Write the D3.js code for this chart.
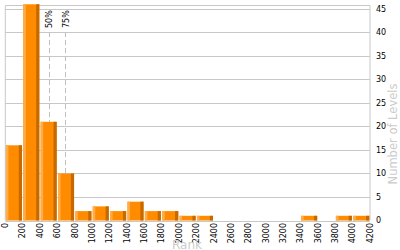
<!DOCTYPE html>
<html>
<head>
<meta charset="utf-8">
<script src="https://cdn.jsdelivr.net/npm/d3@7"></script>
<style>
  body { margin: 0; background: #fff; }
  svg text { font-family: "DejaVu Sans", sans-serif; }
</style>
</head>
<body>
<script>
const WIDTH = 400;
const HEIGHT = 250;

// histogram bins (rank, lower edge of each 200 wide bin) and level counts
const binStarts = [0, 200, 400, 600, 800, 1000, 1200, 1400, 1600, 1800, 2000,
                   2200, 2400, 2600, 2800, 3000, 3200, 3400, 3600, 3800, 4000];
const counts = [16, 46, 21, 10, 2, 3, 2, 4, 2, 2, 1,
                1, 0, 0, 0, 0, 0, 1, 0, 1, 1];
const binWidth = 200;

const xTicks = [0, 200, 400, 600, 800, 1000, 1200, 1400, 1600, 1800, 2000,
                2200, 2400, 2600, 2800, 3000, 3200, 3400, 3600, 3800, 4000, 4200];
const yTicks = [0, 5, 10, 15, 20, 25, 30, 35, 40, 45];

const markerLabels = ["50%", "75%"];
const markerRanks = [500, 690];

const margin = {top: 5, right: 30, bottom: 29.5, left: 5.3};

let svg = d3.select("body")
            .append("svg")
            .attr("width", WIDTH)
            .attr("height", HEIGHT);

let x = d3.scaleLinear()
          .domain([0, 4200])
          .range([margin.left, WIDTH - margin.right]);

let y = d3.scaleLinear()
          .domain([0, 45.85])
          .range([HEIGHT - margin.bottom, margin.top]);

// grid
svg.append("g")
   .selectAll("line")
   .data(yTicks)
   .enter().append("line")
   .attr("x1", x(0))
   .attr("x2", x(4200))
   .attr("y1", d => Math.round(y(d)) + 0.5)
   .attr("y2", d => Math.round(y(d)) + 0.5)
   .attr("stroke", "#c8c8c8");

// frame: top, left, right
svg.append("path")
   .attr("d", `M${x(0)},${y(0)}V${margin.top + 0.5}H${x(4200)}V${y(0)}`)
   .attr("fill", "none")
   .attr("stroke", "#c8c8c8");

// percentile markers
let markers = svg.append("g")
                 .selectAll("g")
                 .data(markerRanks)
                 .enter().append("g");

markers.append("line")
       .attr("x1", d => Math.round(x(d)) + 0.5)
       .attr("x2", d => Math.round(x(d)) + 0.5)
       .attr("y1", 32)
       .attr("y2", y(0))
       .attr("stroke", "#c0c0c0")
       .attr("stroke-dasharray", "5,3");

markers.append("text")
       .attr("transform", d => `translate(${x(d) + 0.5},28) rotate(-90)`)
       .attr("dy", "0.35em")
       .attr("font-size", "8px")
       .attr("fill", "#000")
       .text((d, i) => markerLabels[i]);

// bars
let bars = svg.append("g")
              .selectAll("g")
              .data(binStarts.map((b, i) => ({start: b, count: counts[i]})).filter(d => d.count > 0))
              .enter().append("g");

const barX = d => x(d.start) + 0.6;
const barW = d => x(d.start + binWidth) - x(d.start) - 1.3;

bars.append("rect")
    .attr("x", barX)
    .attr("y", d => y(d.count))
    .attr("width", barW)
    .attr("height", d => y(0) - y(d.count))
    .attr("fill", "#ff8c00");

bars.append("rect")
    .attr("x", barX)
    .attr("y", d => y(d.count))
    .attr("width", 2.5)
    .attr("height", d => y(0) - y(d.count))
    .attr("fill", "#ffad4a");

bars.append("rect")
    .attr("x", d => barX(d) + barW(d) - 3.2)
    .attr("y", d => y(d.count))
    .attr("width", 3.2)
    .attr("height", d => y(0) - y(d.count))
    .attr("fill", "#c66a00");

// x axis labels
svg.append("g")
   .selectAll("text")
   .data(xTicks)
   .enter().append("text")
   .attr("transform", d => `translate(${x(d)},${y(0) + 2.5}) rotate(-90)`)
   .attr("text-anchor", "end")
   .attr("dy", "0.35em")
   .attr("font-size", "8px")
   .attr("fill", "#000")
   .text(d => d);

// y axis labels (right side)
svg.append("g")
   .selectAll("text")
   .data(yTicks)
   .enter().append("text")
   .attr("x", x(4200) + 6)
   .attr("y", d => y(d))
   .attr("dy", "0.35em")
   .attr("font-size", "8px")
   .attr("fill", "#000")
   .text(d => d);

// axis titles
svg.append("text")
   .attr("x", 187)
   .attr("y", 249)
   .attr("text-anchor", "middle")
   .attr("font-size", "12px")
   .attr("fill", "#cccccc")
   .text("Rank");

svg.append("text")
   .attr("transform", "translate(393,134) rotate(-90)")
   .attr("text-anchor", "middle")
   .attr("dy", "0.35em")
   .attr("font-size", "11.5px")
   .attr("fill", "#cccccc")
   .text("Number of Levels");
</script>
</body>
</html>
